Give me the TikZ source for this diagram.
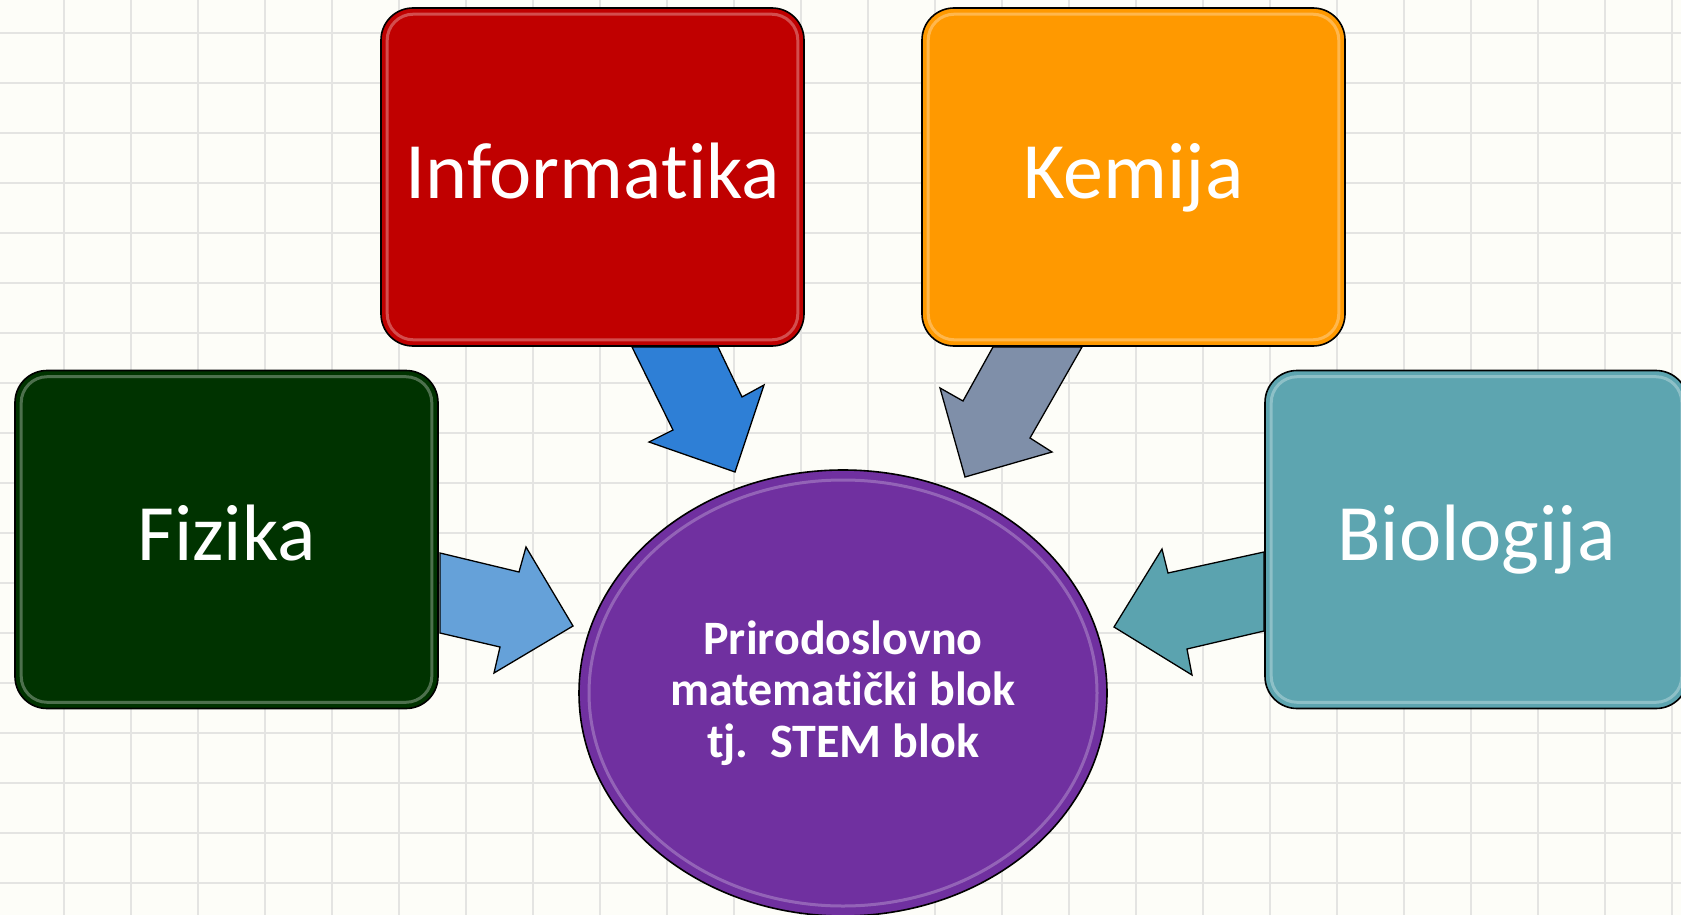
\documentclass[tikz,border=0pt]{standalone}
\usepackage{fontspec}
\setmainfont{Carlito}[Ligatures={NoCommon}]
\usetikzlibrary{shapes.geometric}
\definecolor{bgcol}{RGB}{253,253,248}
\definecolor{gridcol}{RGB}{228,228,226}
\definecolor{infred}{RGB}{192,0,0}
\definecolor{kemorange}{RGB}{255,153,0}
\definecolor{fizgreen}{RGB}{0,51,0}
\definecolor{bioteal}{RGB}{93,165,176}
\definecolor{stempurple}{RGB}{112,48,160}
\definecolor{arrblue}{RGB}{46,127,214}
\definecolor{arrgray}{RGB}{127,143,169}
\definecolor{arrlight}{RGB}{101,161,217}
\definecolor{arrteal}{RGB}{91,163,175}
\begin{document}
\begin{tikzpicture}[x=1pt,y=-1pt,
  subject/.style={draw=black, line width=1.6pt, rounded corners=32pt, fill=#1,
    minimum width=423pt, minimum height=338pt, inner sep=0pt,
    text=white, font=\fontsize{80}{96}\selectfont, text height=42pt, text depth=0pt},
  gloss/.style={draw=white, draw opacity=0.3, line width=3pt, rounded corners=26pt},
  blockarrow/.style={draw=black, line width=1.3pt, line join=miter, fill=#1},
  centre/.style={ellipse, draw=black, line width=1.6pt, fill=stempurple,
    minimum width=528pt, minimum height=446pt, inner sep=0pt,
    text=white, align=center, font=\bfseries\fontsize{48}{51.5}\selectfont}]
\useasboundingbox (0,0) rectangle (1681,915);
\fill[bgcol] (0,0) rectangle (1681,915);
\foreach \gx in {0,...,25} {\draw[gridcol, line width=1.2pt] ({64+67*\gx},0) -- ({64+67*\gx},915);}
\foreach \gy in {0,...,18} {\draw[gridcol, line width=1.2pt] (0,{33+50*\gy}) -- (1681,{33+50*\gy});}

% subject boxes
\node[subject=infred] (inf) at (592.5,177) {Informatika};
\node[subject=kemorange] (kem) at (1133.5,177) {Kemija};
\node[subject=fizgreen] (fiz) at (226.5,539.5) {Fizika};
\node[subject=bioteal] (bio) at (1476.5,539.5) {Biologija};
\foreach \b in {inf,kem,fiz,bio} {
  \draw[gloss] ([xshift=7pt,yshift=-7pt]\b.north west) rectangle ([xshift=-7pt,yshift=7pt]\b.south east);
}

% centre ellipse
\node[centre] (stem) at (843,693) {Prirodoslovno\\matematički blok\\tj.\ \ STEM blok};
\draw[white, opacity=0.25, line width=3pt] (843,693) ellipse [x radius=254pt, y radius=213pt];

% block arrows
\draw[blockarrow=arrblue] (632,347) -- (718,347) -- (742,397) -- (764,385) -- (735,472) -- (649,442) -- (673,430) -- cycle;
\draw[blockarrow=arrgray] (993,347) -- (1082,347) -- (1030,438) -- (1052,452) -- (965,477) -- (940,388) -- (963,401) -- cycle;
\draw[blockarrow=arrlight] (440,553) -- (519,572) -- (526,547) -- (573,626) -- (494,673) -- (500,647) -- (440,633) -- cycle;
\draw[blockarrow=arrteal] (1264,552) -- (1168,573) -- (1162,549) -- (1114,627) -- (1192,675) -- (1187,649) -- (1264,631) -- cycle;
\end{tikzpicture}
\end{document}
